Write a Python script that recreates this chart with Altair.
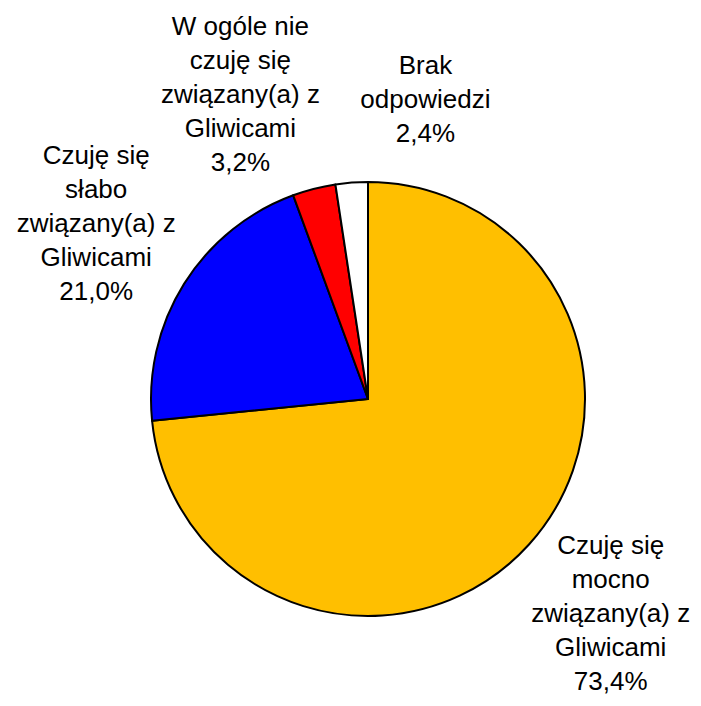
import altair as alt
import pandas as pd

# Data
categories = [
    "Czuję się\nmocno\nzwiązany(a) z\nGliwicami",
    "Czuję się\nsłabo\nzwiązany(a) z\nGliwicami",
    "W ogóle nie\nczuję się\nzwiązany(a) z\nGliwicami",
    "Brak\nodpowiedzi",
]
values = [73.4, 21.0, 3.2, 2.4]
colors = ["#FFBF00", "#0000FF", "#FF0000", "#FFFFFF"]

labels = [c + "\n" + f"{v:.1f}".replace(".", ",") + "%" for c, v in zip(categories, values)]

df = pd.DataFrame({
    "idx": list(range(len(values))),
    "cat": categories,
    "value": values,
    "label": labels,
})

CX, CY, R = 360, 391, 217
LH = 34

base = alt.Chart(df).transform_window(
    cum="sum(value)", sort=[alt.SortField("idx")], frame=[None, 0]
).transform_joinaggregate(
    total="sum(value)"
).transform_calculate(
    start="(datum.cum - datum.value) / datum.total",
    end="datum.cum / datum.total",
    mid="(datum.cum - datum.value / 2) / datum.total",
)

theta_scale = alt.Scale(domain=[0, 1], range=[0, 6.283185307179586])

pie = base.mark_arc(outerRadius=R, stroke="black", strokeWidth=2, strokeJoin="round").encode(
    theta=alt.Theta("start:Q", scale=theta_scale),
    theta2="end:Q",
    color=alt.Color("cat:N", scale=alt.Scale(domain=categories, range=colors), legend=None),
    x=alt.value(CX),
    y=alt.value(CY),
)

# per-label placement (radius, dx, dy of block centre)
placements = [(338, -8, -12), (323, 2, -4), (320, -48, 6), (300, 80, 0)]

layers = [pie]
for i, (rad, dx, dy) in enumerate(placements):
    n_lines = labels[i].count("\n") + 1
    t = base.transform_filter(alt.datum.idx == i).mark_text(
        radius=rad, dx=dx, dy=dy - (n_lines - 1) / 2 * LH, lineBreak="\n", lineHeight=LH,
        font="Liberation Sans", fontSize=26, color="black",
        align="center", baseline="middle",
    ).encode(
        theta=alt.Theta("mid:Q", scale=theta_scale),
        text="label:N",
        x=alt.value(CX),
        y=alt.value(CY),
    )
    layers.append(t)

chart = alt.layer(*layers).properties(
    width=685, height=690, padding=0,
    autosize=alt.AutoSizeParams(type="none"),
).configure_view(stroke=None)

chart.save("out.html", embed_options={"renderer": "svg", "actions": False})
